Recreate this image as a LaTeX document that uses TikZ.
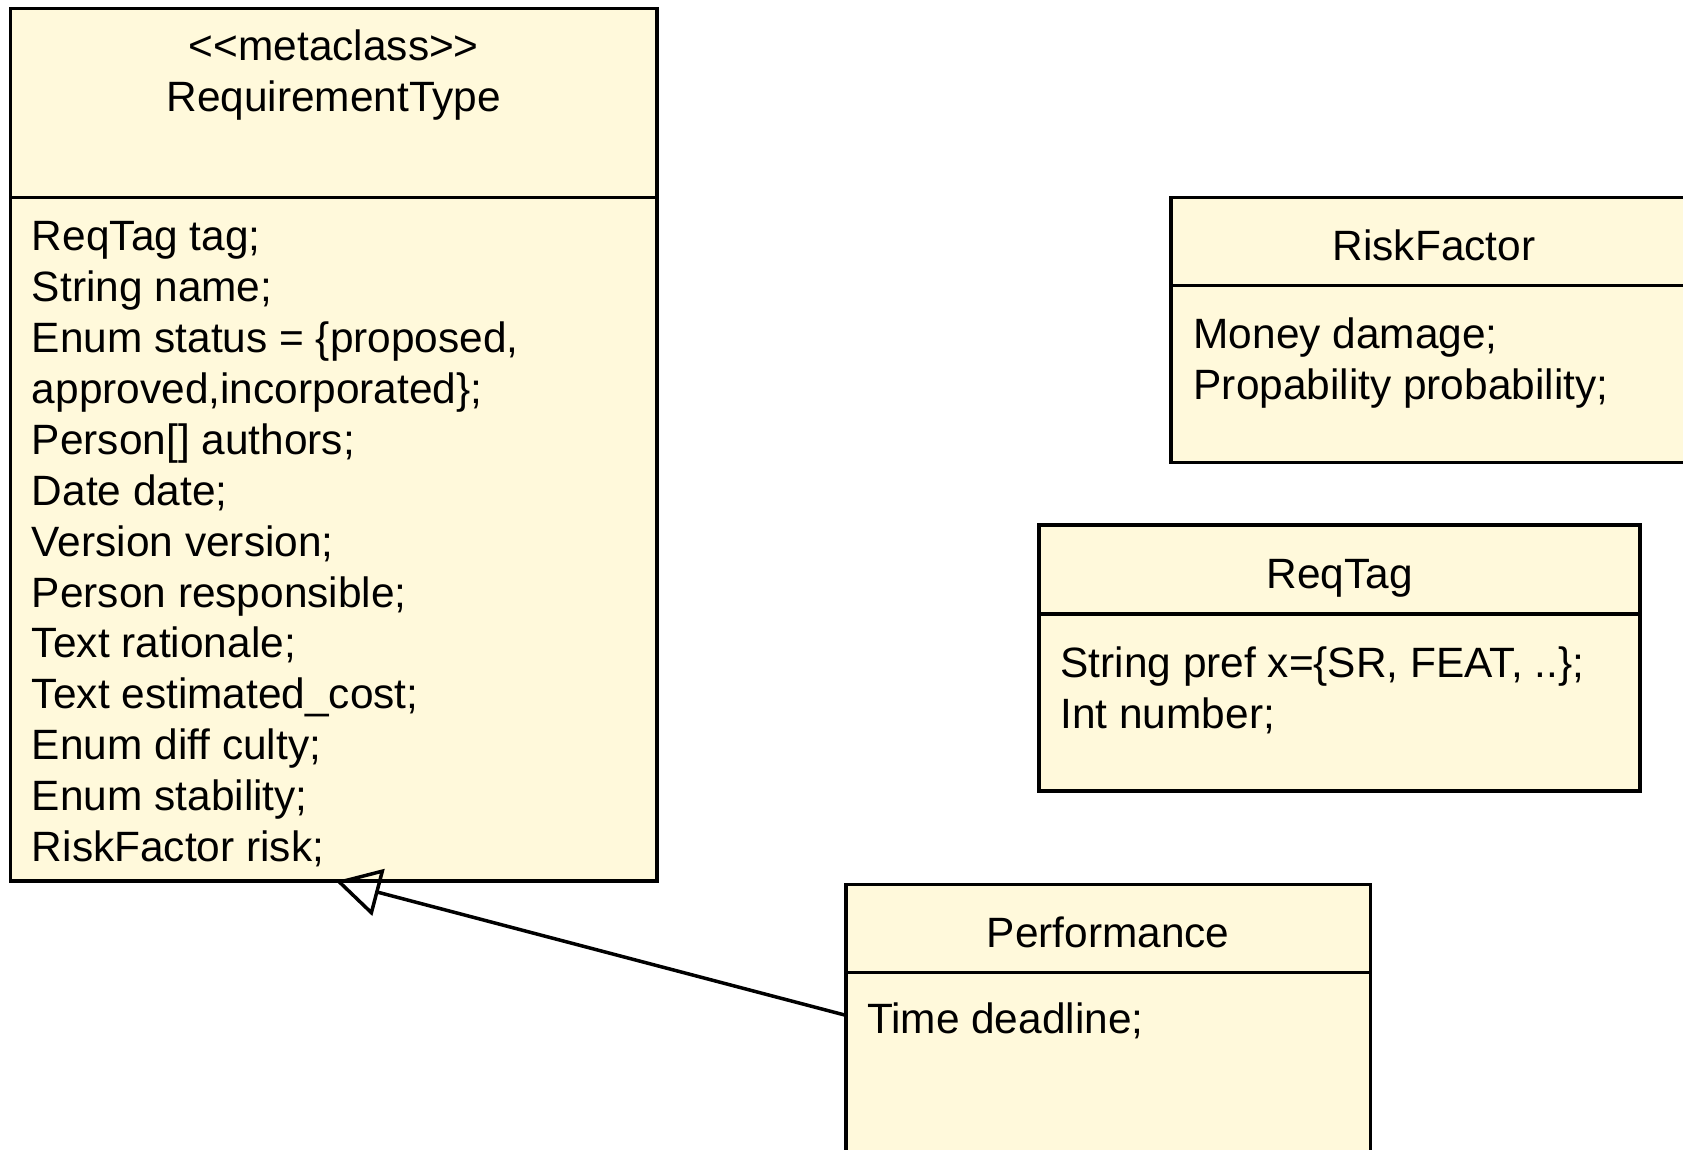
\documentclass[tikz,border=0pt]{standalone}
\usepackage{fontspec}
\setmainfont{Liberation Sans}
\usetikzlibrary{arrows.meta}
\definecolor{classfill}{RGB}{255,249,219}
\tikzset{
  classbox/.style={draw=black, line width=1.75pt, fill=classfill, anchor=north west,
    inner sep=0pt, outer sep=0pt},
  classtext/.style={inner sep=0pt, outer sep=0pt, font=\fontsize{21.2}{25.5}\selectfont},
  classtitle/.style={classtext, anchor=base},
  attr/.style={classtext, anchor=base west},
  divider/.style={line width=1.75pt},
  generalization/.style={line width=1.75pt, -{Triangle[open, length=22pt, width=24pt]}},
}
\begin{document}
\begin{tikzpicture}[x=0.5pt, y=-0.5pt]
\useasboundingbox (0,0) rectangle (1683,1150);
\clip (0,0) rectangle (1683,1150);

% RequirementType
\node[classbox, minimum width=323.1pt, minimum height=436.3pt] (rt) at (10.7,8.6) {};
\draw[divider] ([yshift=-94.45pt]rt.north west) -- ([yshift=-94.45pt]rt.north east);
\node[classtitle] (rtstereo) at (333.8,61) {<\kern0pt<metaclass>\kern0pt>};
\node[classtitle] (rtname) at (333.8,111.6) {RequirementType};
\node[attr] (rta1)  at (32,250.7) {ReqTag tag;};
\node[attr] (rta2)  at (32,301.6) {String name;};
\node[attr] (rta3)  at (32,352.5) {Enum status = \{proposed,};
\node[attr] (rta4)  at (32,403.4) {approved,incorporated\};};
\node[attr] (rta5)  at (32,454.3) {Person[] authors;};
\node[attr] (rta6)  at (32,505.2) {Date date;};
\node[attr] (rta7)  at (32,556.1) {Version version;};
\node[attr] (rta8)  at (32,607.0) {Person responsible;};
\node[attr] (rta9)  at (32,657.9) {Text rationale;};
\node[attr] (rta10) at (32,708.8) {Text estimated\_cost;};
\node[attr] (rta11) at (32,759.7) {Enum diff culty;};
\node[attr] (rta12) at (32,810.6) {Enum stability;};
\node[attr] (rta13) at (32,861.5) {RiskFactor risk;};

% RiskFactor
\node[classbox, minimum width=263pt, minimum height=132.55pt] (rf) at (1171,197.5) {};
\draw[divider] ([yshift=-44pt]rf.north west) -- ([yshift=-44pt]rf.north east);
\node[classtitle] (rfname) at (1434,261) {RiskFactor};
\node[attr] (rfa1) at (1193.6,348.8) {Money damage;};
\node[attr] (rfa2) at (1193.6,399.6) {Propability probability;};

% ReqTag
\node[classbox, minimum width=300.5pt, minimum height=133.1pt] (rq) at (1039,524.8) {};
\draw[divider] ([yshift=-44.6pt]rq.north west) -- ([yshift=-44.6pt]rq.north east);
\node[classtitle] (rqname) at (1339.5,588.3) {ReqTag};
\node[attr] (rqa1) at (1060.5,677.2) {String pref x=\{SR, FEAT, ..\};};
\node[attr] (rqa2) at (1060.5,728.0) {Int number;};

% Performance
\node[classbox, minimum width=262.4pt, minimum height=150pt] (pf) at (845.8,884.4) {};
\draw[divider] ([yshift=-44pt]pf.north west) -- ([yshift=-44pt]pf.north east);
\node[classtitle] (pfname) at (1108.2,947.9) {Performance};
\node[attr] (pfa1) at (867,1033.6) {Time deadline;};

% generalization Performance -> RequirementType
\draw[generalization] ([yshift=-65.45pt]pf.north west) -- ([xshift=162.65pt]rt.south west);
\end{tikzpicture}
\end{document}
